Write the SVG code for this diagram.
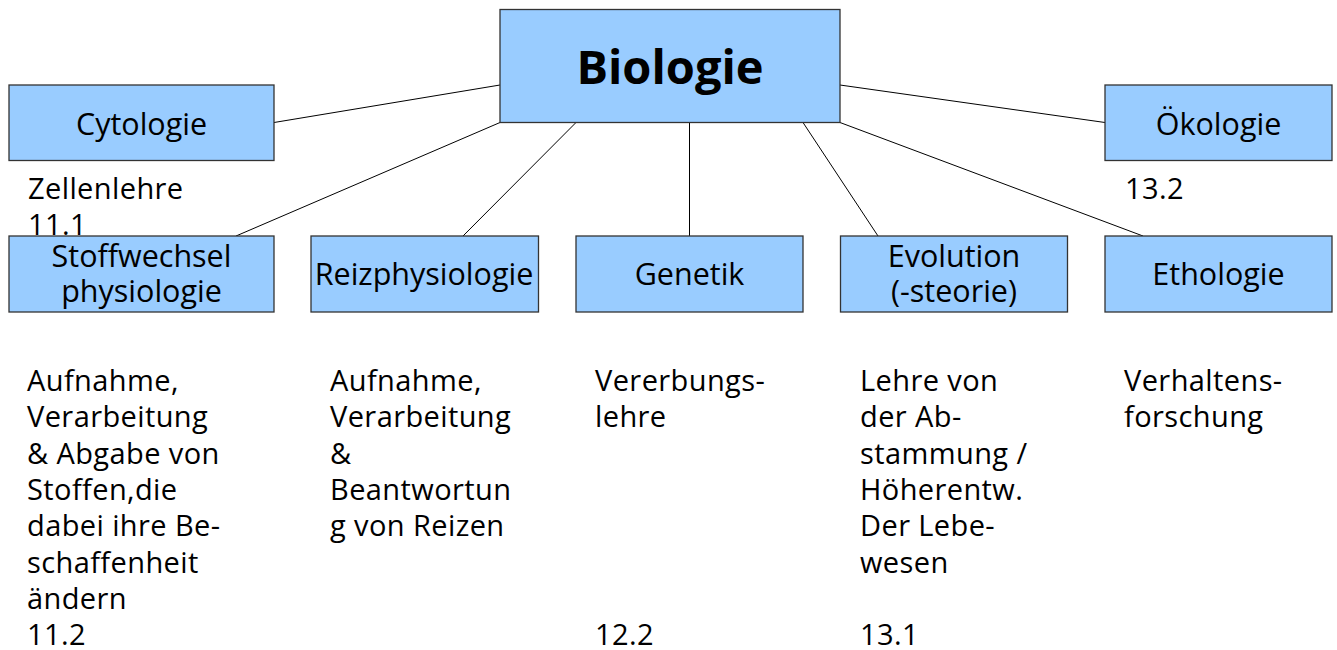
<svg xmlns="http://www.w3.org/2000/svg" width="1337" height="650" viewBox="0 0 1337 650">
<style>
.box{fill:#99ccff;stroke:#333;stroke-width:1.3}
.lbl{font-family:"Open Sans","DejaVu Sans",sans-serif;font-size:30.5px;fill:#000;text-anchor:middle}
.txt{font-family:"Open Sans","DejaVu Sans",sans-serif;font-size:29px;letter-spacing:0.4px;fill:#000}
.big{font-family:"Open Sans","DejaVu Sans",sans-serif;font-size:47px;font-weight:bold;fill:#000;text-anchor:middle}
.con line{stroke:#000;stroke-width:1}
</style>
<rect width="1337" height="650" fill="#fff"/>
<g id="texts">
<text class="txt" x="28" y="199">Zellenlehre</text>
<text class="txt" x="28" y="235">11.1</text>
<text class="txt" x="1125" y="199">13.2</text>
<text class="txt" x="27"><tspan x="27" y="391">Aufnahme,</tspan><tspan x="27" y="427.3">Verarbeitung</tspan><tspan x="27" y="463.6">&amp; Abgabe von</tspan><tspan x="27" y="499.9">Stoffen,die</tspan><tspan x="27" y="536.2">dabei ihre Be-</tspan><tspan x="27" y="572.5">schaffenheit</tspan><tspan x="27" y="608.8">ändern</tspan><tspan x="27" y="644.5">11.2</tspan></text>
<text class="txt" x="330"><tspan x="330" y="391">Aufnahme,</tspan><tspan x="330" y="427.3">Verarbeitung</tspan><tspan x="330" y="463.6">&amp;</tspan><tspan x="330" y="499.9">Beantwortun</tspan><tspan x="330" y="536.2">g von Reizen</tspan></text>
<text class="txt" x="595"><tspan x="595" y="391">Vererbungs-</tspan><tspan x="595" y="427.3">lehre</tspan><tspan x="595" y="644.5">12.2</tspan></text>
<text class="txt" x="860"><tspan x="860" y="391">Lehre von</tspan><tspan x="860" y="427.3">der Ab-</tspan><tspan x="860" y="463.6">stammung /</tspan><tspan x="860" y="499.9">Höherentw.</tspan><tspan x="860" y="536.2">Der Lebe-</tspan><tspan x="860" y="572.5">wesen</tspan><tspan x="860" y="644.5">13.1</tspan></text>
<text class="txt" x="1124"><tspan x="1124" y="391">Verhaltens-</tspan><tspan x="1124" y="427.3">forschung</tspan></text>
</g>
<g class="con" id="connectors">
<line x1="274" y1="122.5" x2="500" y2="85"/>
<line x1="236" y1="236" x2="500" y2="122.5"/>
<line x1="463" y1="236" x2="576" y2="122.5"/>
<line x1="689.5" y1="236" x2="689.5" y2="122.5"/>
<line x1="878" y1="236" x2="803" y2="122.5"/>
<line x1="1143" y1="236" x2="840" y2="122.5"/>
<line x1="1105" y1="122.5" x2="840" y2="85"/>
</g>
<g id="biologie"><rect class="box" x="500" y="9.5" width="340" height="113"/><text class="big" x="670" y="84">Biologie</text></g>
<g id="cytologie"><rect class="box" x="9" y="85" width="265" height="75.5"/><text class="lbl" x="141.5" y="135">Cytologie</text></g>
<g id="oekologie"><rect class="box" x="1105" y="85" width="227" height="75.5"/><text class="lbl" x="1218.5" y="135">Ökologie</text></g>
<g id="stoffwechsel"><rect class="box" x="9" y="236" width="265" height="76"/><text class="lbl" x="141.5" y="267">Stoffwechsel</text><text class="lbl" x="141.5" y="302">physiologie</text></g>
<g id="reizphysiologie"><rect class="box" x="311" y="236" width="227.5" height="76"/><text class="lbl" x="424" y="285">Reizphysiologie</text></g>
<g id="genetik"><rect class="box" x="576" y="236" width="227" height="76"/><text class="lbl" x="689.5" y="285">Genetik</text></g>
<g id="evolution"><rect class="box" x="840.5" y="236" width="227" height="76"/><text class="lbl" x="954" y="267">Evolution</text><text class="lbl" x="954" y="302">(-steorie)</text></g>
<g id="ethologie"><rect class="box" x="1105" y="236" width="227" height="76"/><text class="lbl" x="1218.5" y="285">Ethologie</text></g>
</svg>
